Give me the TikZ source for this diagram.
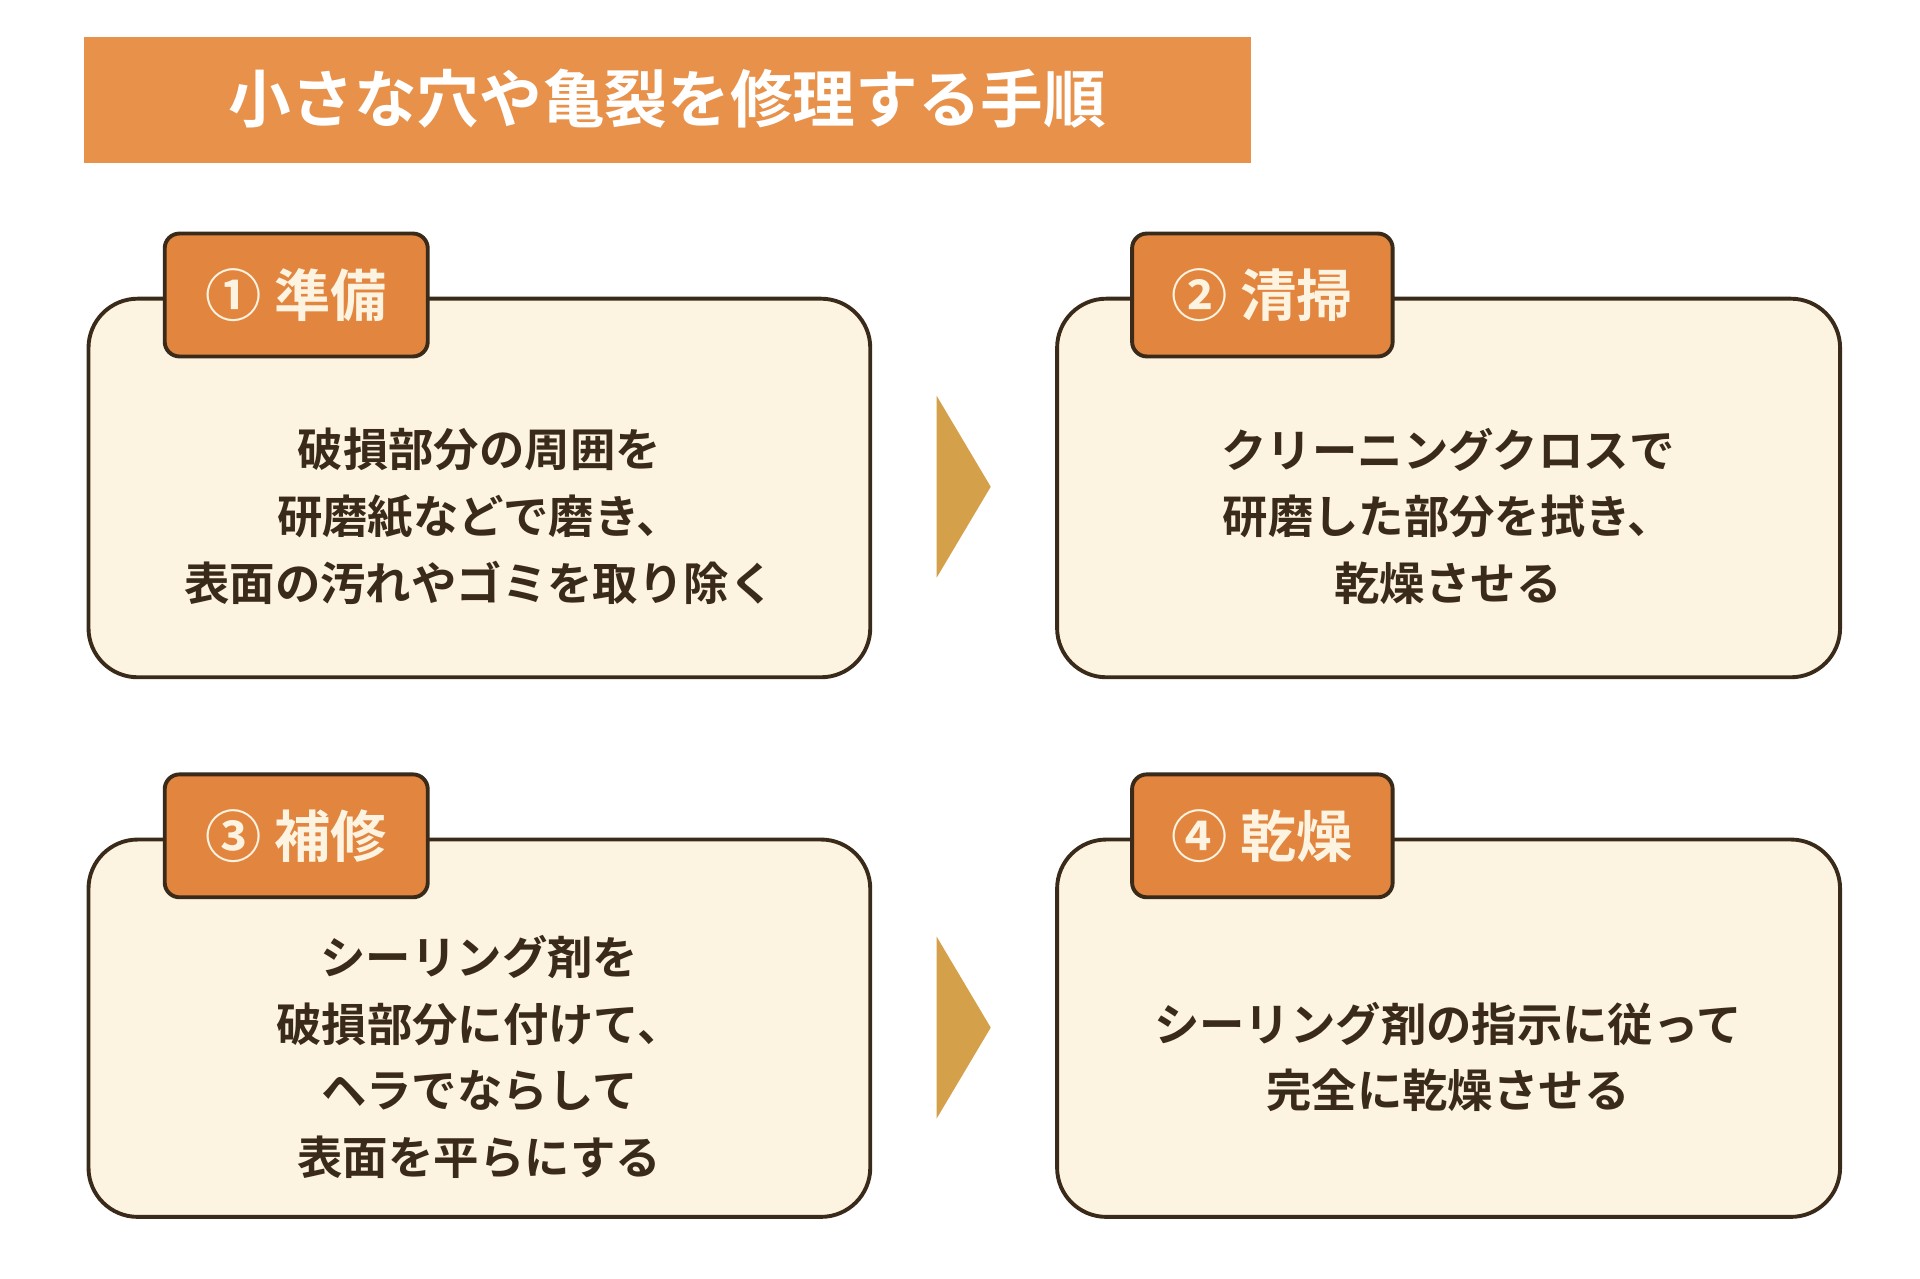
\documentclass[tikz,border=0pt]{standalone}
\usepackage{fontspec}
\setmainfont{Noto Sans CJK JP}[BoldFont={* Bold}]
\definecolor{tor}{HTML}{E8914A}
\definecolor{tabor}{HTML}{E2853F}
\definecolor{cream}{HTML}{FDF3E1}
\definecolor{dk}{HTML}{3A2A1A}
\definecolor{arr}{HTML}{D4A04A}
\begin{document}
\begin{tikzpicture}[x=0.01cm,y=-0.01cm,
 card/.style={draw=dk,line width=0.9pt,fill=cream,rounded corners=0.4cm},
 tabbox/.style={draw=dk,line width=0.9pt,fill=tabor,rounded corners=0.12cm},
 tabtxt/.style={text=cream,font=\bfseries\fontsize{13}{15}\selectfont,anchor=center},
 body/.style={text=dk,font=\bfseries\fontsize{10.5}{15.4}\selectfont,align=center,anchor=center},
 tri/.style={fill=arr}]
\useasboundingbox (0,0) rectangle (1562,1040);
\fill[tor] (68,30) rectangle (1018,133);
\node[text=white,font=\bfseries\fontsize{14.5}{16}\selectfont] (title) at (543,80) {小さな穴や亀裂を修理する手順};
% cards
\draw[card] (72,243) rectangle (708,551);
\draw[card] (860,243) rectangle (1497,551);
\draw[card] (72,683) rectangle (708,990);
\draw[card] (860,683) rectangle (1497,990);
% tabs
\draw[tabbox] (134,190) rectangle (348,290);
\draw[tabbox] (921,190) rectangle (1133,290);
\draw[tabbox] (134,630) rectangle (348,730);
\draw[tabbox] (921,630) rectangle (1133,730);
\node[tabtxt] (t1) at (241,240) {① 準備};
\node[tabtxt] (t2) at (1027,240) {② 清掃};
\node[tabtxt] (t3) at (241,680) {③ 補修};
\node[tabtxt] (t4) at (1027,680) {④ 乾燥};
% arrows
\fill[tri] (762,322) -- (806,396) -- (762,470) -- cycle;
\fill[tri] (762,762) -- (806,836) -- (762,910) -- cycle;
% texts
\node[body] (b1) at (390,420) {破損部分の周囲を\\研磨紙などで磨き、\\表面の汚れやゴミを取り除く};
\node[body] (b2) at (1178,420) {クリーニングクロスで\\研磨した部分を拭き、\\乾燥させる};
\node[body] (b3) at (390,860) {シーリング剤を\\破損部分に付けて、\\ヘラでならして\\表面を平らにする};
\node[body] (b4) at (1178,860) {シーリング剤の指示に従って\\完全に乾燥させる};
\end{tikzpicture}
\end{document}
